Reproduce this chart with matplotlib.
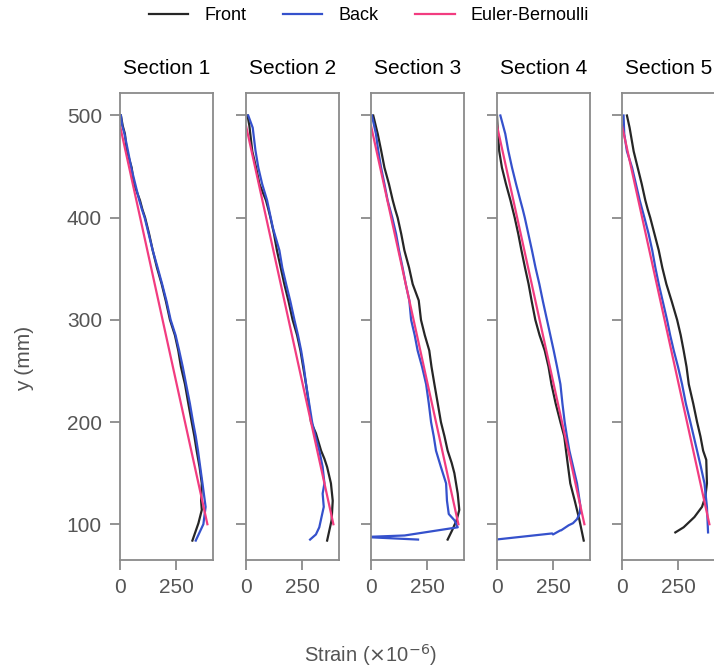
import matplotlib
matplotlib.use("Agg")
import matplotlib.pyplot as plt

plt.rcParams["font.family"] = ["Liberation Sans", "DejaVu Sans"]

sections = ["Section 1", "Section 2", "Section 3", "Section 4", "Section 5"]

# Euler-Bernoulli prediction (same for every section)
eb_strain = [0, 390]
eb_y = [490, 100]

# front gauge readings (strain, y) per section
front_strain = [
    [4, 12, 22, 30, 52, 62, 89, 100, 112, 130, 146, 165, 186, 205, 223, 245, 260, 272, 290, 305, 320, 332, 342, 355, 365, 362, 365, 350, 323],
    [7, 15, 28, 45, 60, 89, 100, 109, 125, 138, 155, 171, 190, 208, 228, 243, 255, 268, 280, 290, 312, 335, 350, 362, 379, 387, 382, 362],
    [10, 30, 45, 60, 80, 97, 108, 119, 135, 149, 170, 186, 213, 223, 240, 260, 270, 283, 298, 312, 328, 342, 360, 372, 387, 394, 382, 362, 342],
    [0, 4, 10, 22, 40, 60, 70, 79, 95, 109, 125, 141, 155, 171, 190, 213, 230, 243, 262, 283, 300, 308, 315, 327, 347, 368, 387],
    [22, 34, 52, 70, 88, 104, 115, 126, 145, 164, 180, 198, 222, 246, 262, 275, 288, 298, 318, 335, 350, 362, 376, 379, 372, 357, 323, 275, 238],
]
front_y = [
    [500, 490, 482, 466, 449, 433, 417, 408, 400, 384, 368, 351, 335, 318, 300, 285, 270, 254, 237, 218, 200, 186, 172, 156, 140, 123, 114, 101, 84],
    [500, 490, 465, 449, 433, 417, 408, 400, 384, 368, 351, 335, 318, 300, 285, 270, 254, 237, 218, 200, 189, 172, 164, 156, 140, 123, 104, 84],
    [500, 482, 466, 449, 433, 417, 408, 400, 384, 368, 351, 335, 319, 300, 285, 270, 254, 237, 218, 200, 186, 172, 160, 150, 130, 114, 104, 94, 85],
    [500, 482, 465, 449, 433, 417, 408, 400, 384, 368, 351, 335, 318, 300, 285, 270, 254, 237, 218, 200, 186, 172, 160, 140, 123, 104, 84],
    [500, 488, 465, 449, 433, 417, 408, 400, 384, 368, 351, 335, 318, 300, 285, 270, 254, 237, 218, 200, 186, 172, 163, 140, 127, 117, 107, 97, 92],
]

# back gauge readings (strain, y) per section
back_strain = [
    [4, 10, 20, 35, 50, 68, 86, 98, 110, 128, 146, 168, 188, 208, 226, 248, 264, 280, 295, 312, 326, 338, 348, 358, 368, 382, 372, 338],
    [10, 30, 42, 55, 72, 94, 120, 149, 162, 179, 198, 216, 232, 246, 258, 268, 282, 295, 310, 327, 342, 350, 342, 347, 327, 312, 286],
    [4, 22, 32, 45, 60, 74, 95, 112, 125, 141, 155, 171, 179, 195, 208, 228, 246, 258, 268, 280, 290, 312, 335, 339, 347, 372, 387, 150, -30, 210],
    [15, 37, 50, 67, 85, 104, 115, 124, 140, 156, 172, 189, 205, 223, 238, 253, 268, 283, 292, 302, 312, 323, 340, 357, 372, 370, 357, 339, 320, 286, 283, 250, 246, -5],
    [7, 10, 22, 45, 62, 79, 100, 119, 135, 149, 164, 182, 201, 215, 231, 250, 268, 285, 305, 320, 335, 352, 368, 379, 384],
]
back_y = [
    [500, 490, 482, 466, 449, 433, 417, 408, 400, 384, 368, 351, 335, 318, 300, 285, 270, 254, 237, 218, 200, 186, 172, 156, 140, 117, 100, 84],
    [500, 488, 466, 449, 433, 417, 390, 368, 351, 335, 318, 300, 285, 270, 254, 237, 218, 200, 186, 172, 156, 140, 130, 117, 97, 90, 85],
    [500, 482, 466, 449, 433, 417, 400, 384, 368, 351, 335, 319, 300, 285, 270, 254, 237, 218, 200, 186, 172, 156, 140, 123, 110, 104, 97, 89, 87.5, 85],
    [500, 482, 466, 449, 433, 417, 408, 400, 384, 368, 351, 335, 318, 300, 285, 270, 254, 237, 218, 200, 186, 172, 156, 140, 118, 111, 105, 101, 99, 94, 94, 90, 91, 85],
    [500, 482, 465, 449, 433, 417, 400, 384, 368, 351, 335, 318, 300, 285, 270, 254, 237, 218, 200, 186, 172, 156, 140, 117, 92],
]

FRONT_C = "#262626"
BACK_C = "#3551cc"
EB_C = "#f23c80"
GRAY = "#8a8a8a"
TXT = "#555555"

W, H = 714, 670
fig = plt.figure(figsize=(W / 100, H / 100), dpi=100)

lefts = [120, 246, 371, 497, 622]
ax_w, ax_top, ax_bot = 93, 93, 560

for i, name in enumerate(sections):
    ax = fig.add_axes([lefts[i] / W, 1 - ax_bot / H, ax_w / W, (ax_bot - ax_top) / H])
    l1, = ax.plot(front_strain[i], front_y[i], color=FRONT_C, lw=1.6, label="Front")
    l2, = ax.plot(back_strain[i], back_y[i], color=BACK_C, lw=1.6, label="Back")
    l3, = ax.plot(eb_strain, eb_y, color=EB_C, lw=1.6, label="Euler-Bernoulli")
    ax.set_xlim(0, 415)
    ax.set_ylim(65, 522)
    ax.set_xticks([0, 250])
    ax.set_yticks([100, 200, 300, 400, 500])
    ax.set_title(name, fontsize=15, pad=14, color="black")
    for sp in ax.spines.values():
        sp.set_color(GRAY)
        sp.set_linewidth(1.3)
    ax.tick_params(direction="out", length=7, width=1.3, color=GRAY,
                   labelcolor=TXT, labelsize=15, pad=6)
    if i > 0:
        ax.tick_params(labelleft=False)

fig.legend(handles=[l1, l2, l3], loc="upper center", bbox_to_anchor=(369 / W, 1.014),
           ncol=3, frameon=False, fontsize=13, handlelength=2.2, columnspacing=2.0,
           handletextpad=0.9)

fig.text(370 / W, 1 - 655 / H, r"Strain ($\times$10$^{-6}$)", ha="center", va="center",
         fontsize=14.5, color=TXT)
fig.text(25 / W, 1 - 358 / H, "y (mm)", ha="center", va="center", rotation=90,
         fontsize=15, color=TXT)

fig.savefig("out.png", dpi=100)
